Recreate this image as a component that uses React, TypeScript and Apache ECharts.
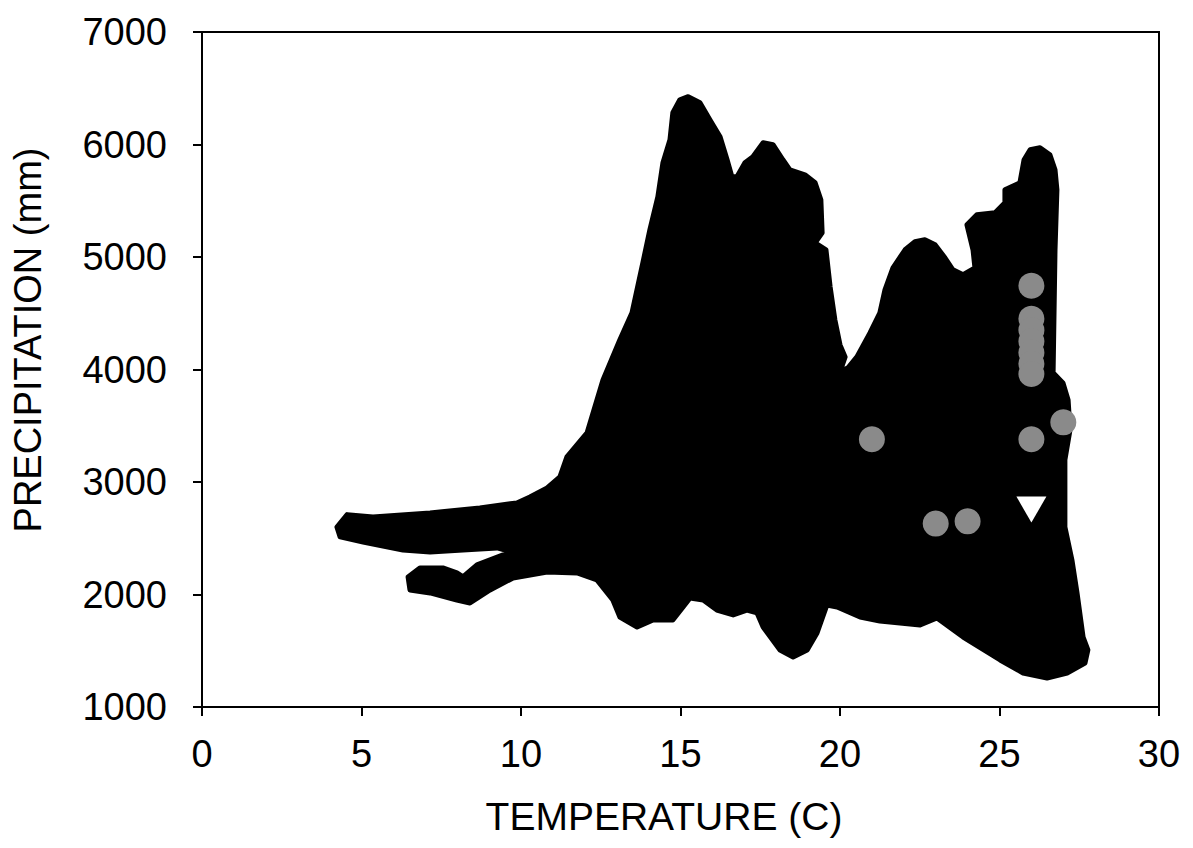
import React, { useEffect, useRef } from "react";
import * as echarts from "echarts";

// Outline of the dense black cloud of points: [temperature (C), precipitation (mm)]
const blobOutline: [number, number][] = [
  [4.23, 2600], [4.55, 2710], [5.36, 2690], [7.15, 2725], [8.71, 2770], [9.87, 2814],
  [10.28, 2867], [10.82, 2947], [11.22, 3045], [11.44, 3223], [12.07, 3436], [12.57, 3908],
  [13.1, 4264], [13.48, 4504], [13.82, 4948], [14.04, 5242], [14.29, 5535], [14.45, 5838],
  [14.67, 6042], [14.76, 6282], [14.98, 6398], [15.24, 6425], [15.61, 6371], [15.92, 6220],
  [16.24, 6069], [16.46, 5864], [16.61, 5713], [16.77, 5713], [17.02, 5838], [17.27, 5891],
  [17.59, 6016], [17.9, 5998], [18.21, 5864], [18.43, 5775], [18.9, 5731], [19.22, 5660],
  [19.4, 5509], [19.44, 5215], [19.22, 5126], [19.56, 5064], [19.69, 4735], [19.84, 4441],
  [20.0, 4219], [20.16, 4112], [20.0, 3979], [20.25, 4015], [20.53, 4112], [20.94, 4326],
  [21.25, 4504], [21.41, 4708], [21.66, 4904], [22.04, 5064], [22.35, 5135], [22.66, 5153],
  [22.98, 5108], [23.29, 4993], [23.54, 4886], [23.86, 4842], [24.23, 4904], [24.17, 5064],
  [23.98, 5286], [24.29, 5375], [24.86, 5393], [25.17, 5482], [25.17, 5598], [25.64, 5660],
  [25.77, 5864], [25.96, 5953], [26.27, 5971], [26.58, 5909], [26.74, 5775], [26.8, 5598],
  [26.74, 5064], [26.68, 3970], [26.99, 3881], [27.15, 3730], [27.21, 3463], [27.05, 3196],
  [27.05, 2600], [27.27, 2307], [27.43, 2014], [27.62, 1622], [27.77, 1507], [27.68, 1391],
  [27.12, 1302], [26.49, 1258], [25.74, 1302], [25.02, 1418], [23.86, 1622], [23.04, 1791],
  [22.51, 1729], [21.25, 1765], [20.63, 1800], [19.91, 1889], [19.59, 1907], [19.28, 1658],
  [18.97, 1507], [18.53, 1445], [18.12, 1507], [17.59, 1711], [17.4, 1836], [17.08, 1862],
  [16.65, 1818], [16.14, 1862], [15.71, 1951], [15.3, 1969], [15.08, 1889], [14.76, 1774],
  [14.14, 1774], [13.64, 1711], [13.1, 1800], [12.88, 1951], [12.38, 2129], [11.76, 2192],
  [10.82, 2200], [9.75, 2147], [9.03, 2040], [8.4, 1925], [7.99, 1951], [7.15, 2014],
  [6.52, 2040], [6.46, 2156], [6.83, 2236], [7.55, 2236], [7.99, 2192], [8.18, 2156],
  [8.62, 2263], [9.44, 2352], [9.72, 2378], [9.25, 2414], [8.18, 2396], [7.15, 2378],
  [6.3, 2396], [5.05, 2467], [4.33, 2512],
];

// Grey circle points
const grayTemps = [21, 23, 24, 26, 26, 26, 26, 26, 26, 26, 26, 27];
const grayPrecip = [3380, 2630, 2650, 4745, 4450, 4350, 4250, 4150, 4050, 3960, 3380, 3530];

// White triangle point
const triTemps = [26];
const triPrecip = [2755];

const xTicks = { min: 0, max: 30, interval: 5 };
const yTicks = { min: 1000, max: 7000, interval: 1000 };

const FONT = "'Liberation Sans', Arial, sans-serif";

export default function App() {
  const ref = useRef<HTMLDivElement>(null);
  useEffect(() => {
    document.body.style.margin = "0";
    const chart = echarts.init(ref.current!, null, { renderer: "svg" });
    const axisCommon = {
      axisLine: { show: true, onZero: false, lineStyle: { color: "#000", width: 2 } },
      axisTick: { show: true, inside: false, length: 9, lineStyle: { color: "#000", width: 2 } },
      splitLine: { show: false },
    };
    chart.setOption({
      animation: false,
      backgroundColor: "#fff",
      grid: {
        left: 202,
        top: 32,
        right: 34,
        bottom: 141,
        show: true,
        borderColor: "#000",
        borderWidth: 2,
        backgroundColor: "transparent",
      },
      xAxis: {
        type: "value",
        ...xTicks,
        ...axisCommon,
        axisLabel: {
          color: "#000",
          fontSize: 38,
          fontFamily: FONT,
          margin: 28,
          formatter: (v: number) => String(v),
        },
      },
      yAxis: {
        type: "value",
        ...yTicks,
        ...axisCommon,
        axisLabel: {
          color: "#000",
          fontSize: 38,
          fontFamily: FONT,
          margin: 35,
          formatter: (v: number) => String(v),
        },
      },
      graphic: [
        {
          type: "text",
          x: 664,
          y: 816,
          style: {
            text: "TEMPERATURE (C)",
            fill: "#000",
            font: `39px ${FONT}`,
            align: "center",
            verticalAlign: "middle",
          },
        },
        {
          type: "text",
          x: 28,
          y: 340,
          rotation: Math.PI / 2,
          style: {
            text: "PRECIPITATION (mm)",
            fill: "#000",
            font: `38px ${FONT}`,
            align: "center",
            verticalAlign: "middle",
          },
        },
      ],
      series: [
        {
          type: "custom",
          coordinateSystem: "cartesian2d",
          data: [blobOutline[0]],
          silent: true,
          z: 1,
          renderItem: (_params: any, api: any) => {
            const pts = blobOutline.map((p) => api.coord(p));
            return {
              type: "polygon",
              shape: { points: pts },
              style: { fill: "#000", stroke: "#000", lineWidth: 5, lineJoin: "round" },
            };
          },
        },
        {
          type: "scatter",
          z: 3,
          symbol: "circle",
          symbolSize: 26,
          itemStyle: { color: "#8a8a8a", opacity: 1 },
          data: grayTemps.map((t, i) => [t, grayPrecip[i]]),
        },
        {
          type: "scatter",
          z: 4,
          symbol: "triangle",
          symbolRotate: 180,
          symbolSize: [30, 26],
          itemStyle: { color: "#fff", opacity: 1 },
          data: triTemps.map((t, i) => [t, triPrecip[i]]),
        },
      ],
    });
    return () => chart.dispose();
  }, []);
  return (
    <div
      ref={ref}
      style={{ position: "fixed", left: 0, top: 0, width: 1193, height: 848 }}
    />
  );
}
